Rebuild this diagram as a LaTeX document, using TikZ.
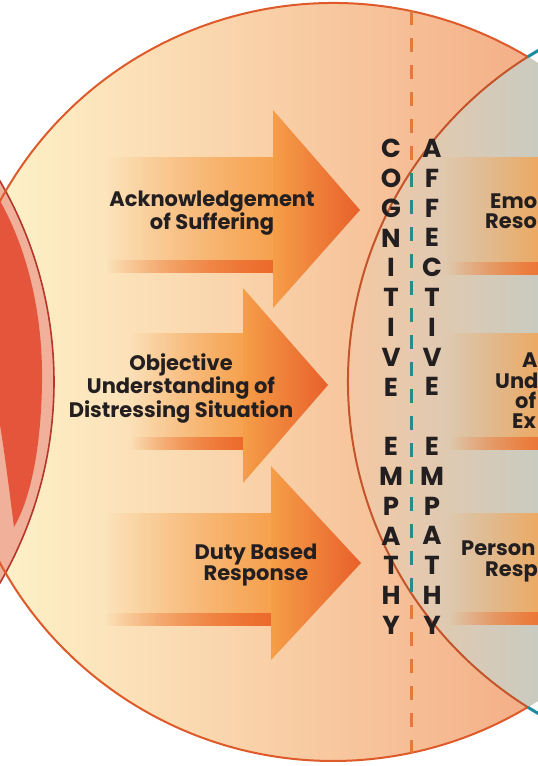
\documentclass[tikz,border=0pt]{standalone}
\usepackage{fontspec}
\setsansfont{Poppins}
\usetikzlibrary{fadings}

\definecolor{ink}{HTML}{231F20}
\definecolor{bgL}{HTML}{FEF1C8}
\definecolor{bgM}{HTML}{FAD5AD}
\definecolor{bgR}{HTML}{F4AE86}
\definecolor{tealL}{HTML}{F6C8A2}
\definecolor{tealM}{HTML}{E3CBB0}
\definecolor{tealR}{HTML}{C9CBC0}
\definecolor{rimOrange}{HTML}{DE5A2A}
\definecolor{rimInner}{HTML}{C4552B}
\definecolor{rimTeal}{HTML}{1C8BA0}
\definecolor{rimRed}{HTML}{B5362C}
\definecolor{band}{HTML}{F0B09A}
\definecolor{core}{HTML}{E5553C}
\definecolor{shaftc}{HTML}{F6A24E}
\definecolor{stripc}{HTML}{EC6A2C}
\definecolor{headL}{HTML}{F59E48}
\definecolor{headR}{HTML}{E8602A}
\definecolor{dashO}{HTML}{E27A3E}
\definecolor{dashT}{HTML}{2B8A88}

% shaft fill fades in from the left
\tikzfading[name=fadein, left color=transparent!100, middle color=transparent!75, right color=transparent!0]

\begin{document}
\begin{tikzpicture}[x=1bp,y=-1bp,
  lbl/.style={font=\sffamily\bfseries\fontsize{21bp}{21.5bp}\selectfont, text=ink, align=center, inner sep=0pt},
  rlbl/.style={font=\sffamily\bfseries\fontsize{21bp}{21.5bp}\selectfont, text=ink, anchor=base west, inner sep=0pt},
  vlet/.style={font=\sffamily\bfseries\fontsize{26bp}{29.8bp}\selectfont, text=ink, align=center, inner sep=0pt, anchor=north},
  shaft/.style={fill=shaftc, path fading=fadein},
  strip/.style={fill=stripc, path fading=fadein},
  head/.style={left color=headL, right color=headR},
  dashline/.style={line width=3bp, dash pattern=on 14bp off 13bp},
]
\useasboundingbox (0,0) rectangle (538,766);
\clip (0,0) rectangle (538,766);
\fill[white] (0,0) rectangle (538,766);

% circle centres
\coordinate (cMid) at (333,382);
\coordinate (cRight) at (732,382);
\coordinate (cLeft) at (-346,382);

% middle circle
\begin{scope}
  \clip (cMid) circle[radius=379];
  \shade[left color=bgL, middle color=bgM, right color=bgR] (0,0) rectangle (538,766);
\end{scope}

% overlap with the right circle
\begin{scope}
  \clip (cMid) circle[radius=379];
  \clip (cRight) circle[radius=384];
  \shade[left color=tealL, middle color=tealM, right color=tealR] (345,0) rectangle (538,766);
\end{scope}

% left circle: pale band around a red core
\fill[band] (cLeft) circle[radius=400];
\fill[core] (-5,192) .. controls (30,250) and (43,320) .. (42,383)
  .. controls (41,450) and (30,500) .. (14,527)
  .. controls (8,480) and (2,430) .. (-8,380) -- cycle;

% arrows on the cognitive side
\fill[shaft] (107,157) rectangle (273,273);
\fill[strip] (107,260) rectangle (273,273);
\shade[head] (273,110) -- (360,210) -- (273,308) -- cycle;

\fill[shaft] (130,333) rectangle (243,450);
\fill[strip] (130,437) rectangle (243,450);
\shade[head] (243,288) -- (328,385) -- (243,483) -- cycle;

\fill[shaft] (105,513) rectangle (271,626);
\fill[strip] (105,613) rectangle (271,626);
\shade[head] (271,466) -- (361,563) -- (271,660) -- cycle;

% shafts on the affective side
\fill[shaft] (440,157) rectangle (560,275);
\fill[strip] (448,262) rectangle (560,275);
\fill[shaft] (445,333) rectangle (560,450);
\fill[strip] (450,437) rectangle (560,450);
\fill[shaft] (445,513) rectangle (560,625);
\fill[strip] (450,612) rectangle (560,625);

% circle outlines
\draw[rimRed, line width=1.6bp] (cLeft) circle[radius=400];
\draw[rimOrange, line width=2bp] (cMid) ++(-59.1:379) arc[start angle=-59.1, end angle=-300.9, radius=379];
\draw[rimTeal, line width=3bp] (cRight) ++(-122.1:384) arc[start angle=-122.1, end angle=122.1, radius=384];
\draw[rimInner, line width=2bp] (cRight) ++(122.1:384) arc[start angle=122.1, end angle=237.9, radius=384];

% divider between the two kinds of empathy
\coordinate (dTop) at (411,11);
\coordinate (dUp) at (411,171.3);
\coordinate (dDn) at (411,592.7);
\coordinate (dBot) at (411,753);
\draw[dashO, dashline] (dTop) -- (dUp);
\draw[dashT, dashline, dash phase=25.3bp] (dUp) -- (dDn);
\draw[dashO, dashline, dash phase=14.7bp] (dDn) -- (dBot);

% labels
\node[lbl] (ack) at (212,213) {Acknowledgement\\of Suffering};
\node[lbl] (obj) at (181,388) {Objective\\Understanding of\\Distressing Situation};
\node[lbl] (duty) at (256,565) {Duty Based\\Response};

\node[rlbl] (emo) at (490,208) {Emo};
\node[rlbl] (reso) at (485,228) {Reso};
\node[rlbl] (acc) at (522,367) {A};
\node[rlbl] (und) at (495,388) {Und};
\node[rlbl] (of) at (515,408) {of};
\node[rlbl] (ex) at (512,428) {Ex};
\node[rlbl] (person) at (461,555) {Person};
\node[rlbl] (resp) at (485,576) {Resp};

\node[vlet] (cog) at (391,139) {C\\O\\G\\N\\I\\T\\I\\V\\E\\[\baselineskip]E\\M\\P\\A\\T\\H\\Y};
\node[vlet] (aff) at (432,139) {A\\F\\F\\E\\C\\T\\I\\V\\E\\[\baselineskip]E\\M\\P\\A\\T\\H\\Y};
\end{tikzpicture}
\end{document}
